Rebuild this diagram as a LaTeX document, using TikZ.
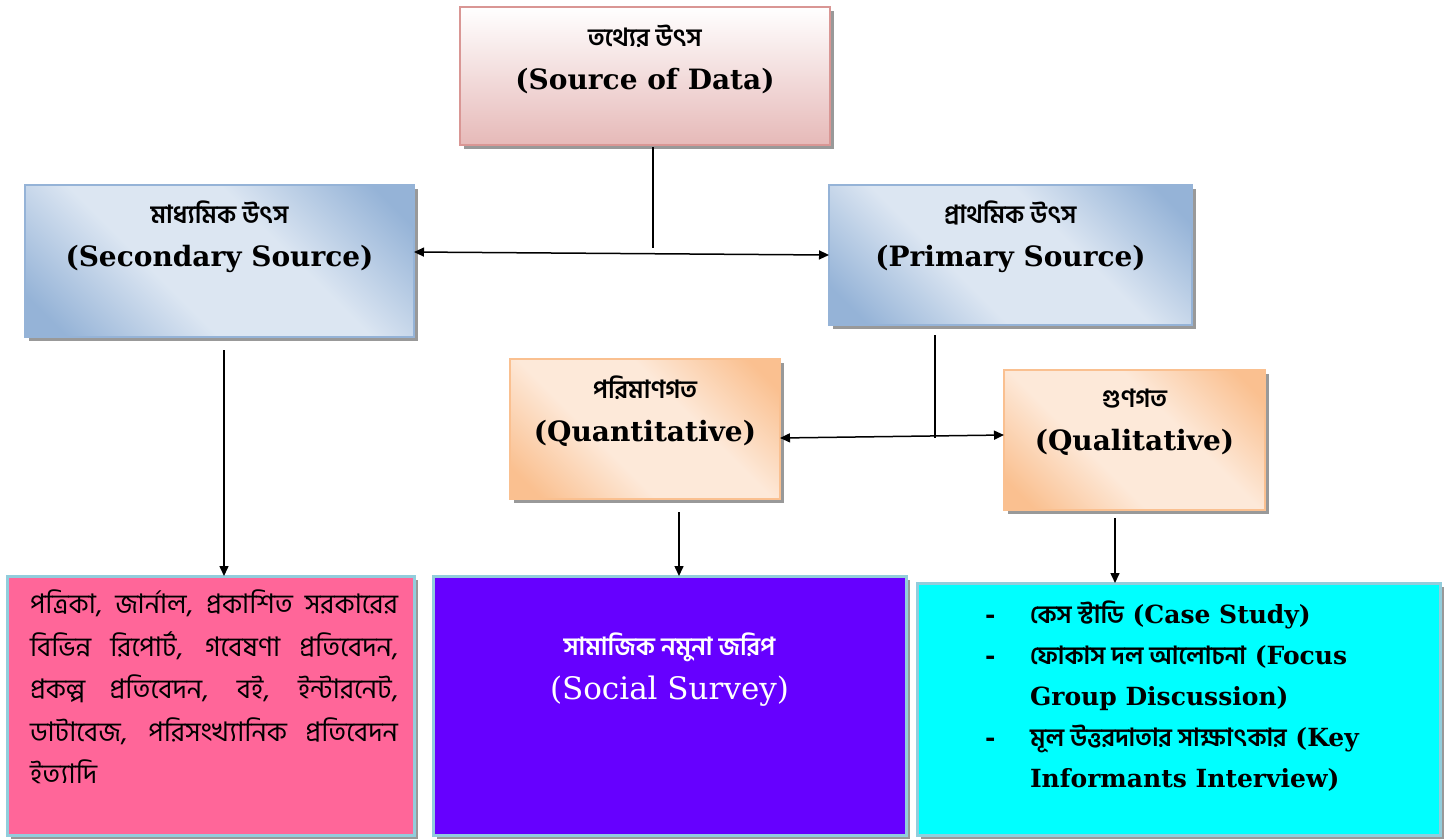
\documentclass[tikz,border=0pt]{standalone}
\usepackage{fontspec}
\setmainfont{DejaVu Serif}
\newfontfamily\bn[Script=Bengali]{Hind Siliguri}
\usetikzlibrary{positioning,arrows.meta,shadows}
\definecolor{srcedge}{HTML}{D99694}
\definecolor{srcfoot}{HTML}{E6B9B8}
\definecolor{blueedge}{HTML}{95B3D7}
\definecolor{bluemid}{HTML}{DCE6F2}
\definecolor{orgedge}{HTML}{FAC090}
\definecolor{orgmid}{HTML}{FDE9D9}
\definecolor{litpink}{HTML}{FF6699}
\definecolor{survpurple}{HTML}{6600FF}
\definecolor{methcyan}{HTML}{00FFFF}
\definecolor{footedge}{HTML}{92CDDC}
\pgfdeclarehorizontalshading{bluediag}{100bp}{color(0bp)=(blueedge); color(20bp)=(blueedge); color(40bp)=(bluemid); color(60bp)=(bluemid); color(80bp)=(blueedge); color(100bp)=(blueedge)}
\pgfdeclarehorizontalshading{orgdiag}{100bp}{color(0bp)=(orgedge); color(20bp)=(orgedge); color(40bp)=(orgmid); color(60bp)=(orgmid); color(80bp)=(orgedge); color(100bp)=(orgedge)}
\newcommand\bnhead[1]{{\bn\bfseries\fontsize{25}{30}\selectfont #1}}

\begin{document}
\begin{tikzpicture}[x=1pt,y=-1pt]
\tikzstyle{every node}+=[inner sep=0pt,outer sep=0pt]
\tikzstyle{shadowed}=[drop shadow={shadow xshift=4pt,shadow yshift=-4pt,fill=black!40,opacity=1}]
\tikzstyle{srcbox}=[rectangle,shadowed,draw=srcedge,line width=1.5pt,top color=white,bottom color=srcfoot]
\tikzstyle{bluebox}=[rectangle,shadowed,draw=blueedge,line width=1.5pt,shading=bluediag,shading angle=45]
\tikzstyle{orgbox}=[rectangle,shadowed,draw=orgedge,line width=1.5pt,shading=orgdiag,shading angle=45]
\tikzstyle{footbox}=[rectangle,shadowed,draw=footedge,line width=3pt]
\tikzstyle{headtext}=[align=center,font=\bfseries\fontsize{28}{43}\selectfont]
\tikzstyle{conn}=[line width=1.5pt]
\tikzstyle{arr}=[conn,-{Triangle[length=10pt,width=9pt]}]
\tikzstyle{link}=[conn,{Triangle[length=10pt,width=9pt]}-{Triangle[length=10pt,width=9pt]}]
\useasboundingbox (0,0) rectangle (1447,839);

\node[srcbox,minimum width=370pt,minimum height=138pt] (src) at (645,76) {};
\node[headtext] (srcT) at ([yshift=-52pt]src.north) {\bnhead{তথ্যের উৎস}\\(Source of Data)};

\node[bluebox,minimum width=389pt,minimum height=152pt] (sec) at (219.5,261) {};
\node[headtext] (secT) at ([yshift=-52pt]sec.north) {\bnhead{মাধ্যমিক উৎস}\\(Secondary Source)};

\node[bluebox,minimum width=363pt,minimum height=140pt] (prim) at (1010.5,255) {};
\node[headtext] (primT) at ([yshift=-52pt]prim.north) {\bnhead{প্রাথমিক উৎস}\\(Primary Source)};

\node[orgbox,minimum width=270pt,minimum height=140pt] (quant) at (645,429) {};
\node[headtext] (quantT) at ([yshift=-52pt]quant.north) {\bnhead{পরিমাণগত}\\(Quantitative)};

\node[orgbox,minimum width=261pt,minimum height=140pt] (qual) at (1134.5,440) {};
\node[headtext] (qualT) at ([yshift=-52pt]qual.north) {\bnhead{গুণগত}\\(Qualitative)};

\node[footbox,fill=litpink,minimum width=407pt,minimum height=259pt] (lit) at (210.5,705.5) {};
\node[anchor=north west,align=left,font=\bn\fontsize{27}{42.5}\selectfont] (litT) at ([xshift=23pt,yshift=-14pt]lit.north west)
  {\makebox[368pt][s]{পত্রিকা, জার্নাল, প্রকাশিত সরকারের}\\
   \makebox[368pt][s]{বিভিন্ন রিপোর্ট, গবেষণা প্রতিবেদন,}\\
   \makebox[368pt][s]{প্রকল্প প্রতিবেদন, বই, ইন্টারনেট,}\\
   \makebox[368pt][s]{ডাটাবেজ, পরিসংখ্যানিক প্রতিবেদন}\\
   ইত্যাদি};

\node[footbox,fill=survpurple,minimum width=473pt,minimum height=259pt] (surv) at (669.5,705.5) {};
\node[align=center,font=\fontsize{31}{44}\selectfont,text=white] (survT) at ([yshift=-94pt]surv.north) {\bnhead{সামাজিক নমুনা জরিপ}\\(Social Survey)};

\node[footbox,fill=methcyan,minimum width=523pt,minimum height=252pt] (meth) at (1178.5,709) {};
\node[anchor=north west,align=left,font=\bfseries\fontsize{25}{41}\selectfont] (methT) at ([xshift=68pt,yshift=-18pt]meth.north west)
  {\makebox[45pt][l]{-}\bnhead{কেস স্টাডি} (Case Study)\\
   \makebox[45pt][l]{-}\bnhead{ফোকাস দল আলোচনা} (Focus\\
   \hspace*{45pt}Group Discussion)\\
   \makebox[45pt][l]{-}\bnhead{মূল উত্তরদাতার সাক্ষাৎকার} (Key\\
   \hspace*{45pt}Informants Interview)};

\coordinate (srcfoot) at (653,147);
\coordinate (srcjoin) at (653,248);
\draw[conn] (srcfoot) -- (srcjoin);
\draw[link] ([yshift=9pt]sec.east) -- (prim.west);
\coordinate (secfoot) at (224,350);
\draw[arr] (secfoot) -- (secfoot |- lit.north);
\coordinate (primfoot) at (935,335);
\coordinate (primjoin) at (935,438);
\draw[conn] (primfoot) -- (primjoin);
\draw[link] ([yshift=-9pt]quant.east) -- ([yshift=5pt]qual.west);
\coordinate (quantfoot) at (679,512);
\draw[arr] (quantfoot) -- (quantfoot |- surv.north);
\coordinate (qualfoot) at (1115,518);
\draw[arr] (qualfoot) -- (qualfoot |- meth.north);
\end{tikzpicture}
\end{document}
